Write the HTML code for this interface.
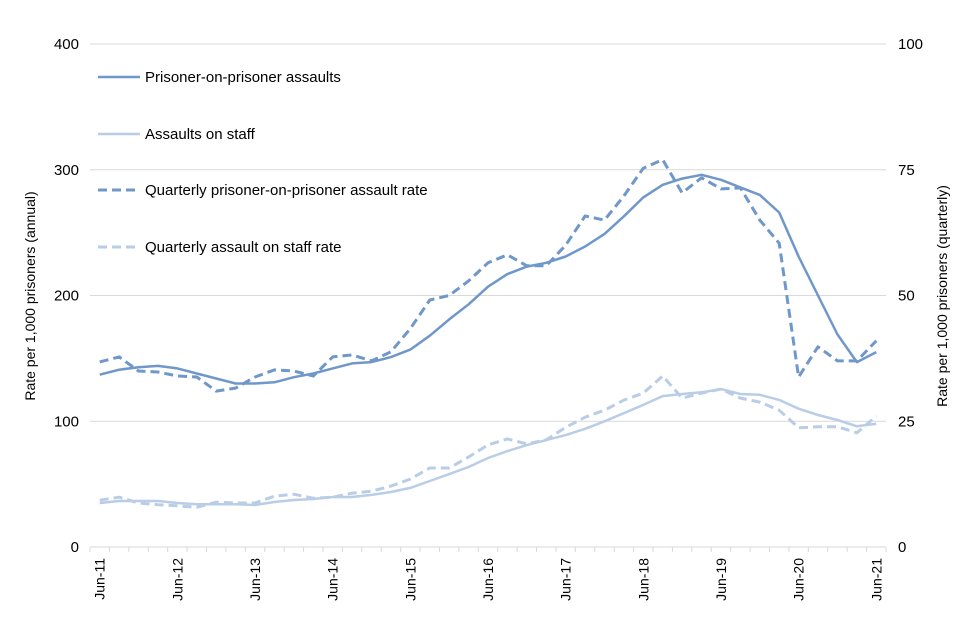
<!DOCTYPE html>
<html><head><meta charset="utf-8"><style>
html,body{margin:0;padding:0;background:#fff;}
svg{display:block;font-family:"Liberation Sans",Arial,sans-serif;}
</style></head><body>
<svg id="chart" width="960" height="640" viewBox="0 0 960 640">
<g id="grid"></g>
<g id="yl"></g>
<g id="yr"></g>
<g id="xa"></g>
<g id="series"></g>
<text transform="translate(35,296) rotate(-90)" text-anchor="middle" font-size="14" fill="#000">Rate per 1,000 prisoners (annual)</text>
<text transform="translate(947,296) rotate(-90)" text-anchor="middle" font-size="14" fill="#000">Rate per 1,000 prisoners (quarterly)</text>
<g>
<g><line x1="98" y1="77" x2="140" y2="77" stroke="#7097c9" stroke-width="2.5"/><text x="145" y="82" font-size="15">Prisoner-on-prisoner assaults</text></g>
<g><line x1="98" y1="134" x2="140" y2="134" stroke="#b9cde6" stroke-width="2.5"/><text x="145" y="139" font-size="15">Assaults on staff</text></g>
<g><line x1="98" y1="190" x2="140" y2="190" stroke="#7097c9" stroke-width="3" stroke-dasharray="9,5"/><text x="145" y="195" font-size="15">Quarterly prisoner-on-prisoner assault rate</text></g>
<g><line x1="98" y1="247" x2="140" y2="247" stroke="#b9cde6" stroke-width="3" stroke-dasharray="9,5"/><text x="145" y="252" font-size="15">Quarterly assault on staff rate</text></g>
</g>
</svg>
<script>
const quarters = ["Jun-11","Sep-11","Dec-11","Mar-12","Jun-12","Sep-12","Dec-12","Mar-13","Jun-13","Sep-13","Dec-13","Mar-14","Jun-14","Sep-14","Dec-14","Mar-15","Jun-15","Sep-15","Dec-15","Mar-16","Jun-16","Sep-16","Dec-16","Mar-17","Jun-17","Sep-17","Dec-17","Mar-18","Jun-18","Sep-18","Dec-18","Mar-19","Jun-19","Sep-19","Dec-19","Mar-20","Jun-20","Sep-20","Dec-20","Mar-21","Jun-21"];
const leftTicks = [0,100,200,300,400];
const rightTicks = [0,25,50,75,100];
const prisonerAnnual = [137,141,143,144,142,138,134,130,130,131,135,138,142,146,147,151,157,168,181,193,207,217,223,226,231,239,249,263,278,288,293,296,292,286,280,266,231,200,169,147,155];
const staffAnnual = [35,36.6,36.6,36.6,35,34,34,34,33.4,35.8,37.4,38.2,39.8,39.8,41.4,43.7,47,52.5,58,63.6,70.8,76.3,81,85,89,94,100,106.5,113,120,121.7,123,125.6,121.7,121,117,110,105,101,96,98];
const prisonerQuarterly = [36.8,37.8,35,34.8,34,33.8,31,31.6,33.8,35.2,35,34,37.8,38.2,37,38.8,43.4,49.1,50,52.9,56.5,58.1,55.9,55.9,60,65.8,65,69.8,75.3,77,70.4,73.4,71.2,71.4,65,60.4,33.8,39.8,37,37,41];
const staffQuarterly = [9.3,9.9,8.75,8.4,8.2,7.9,8.9,8.75,8.75,10.1,10.5,9.7,9.9,10.7,11.1,12.1,13.5,15.7,15.7,17.9,20.3,21.5,20.5,21.3,23.8,25.8,27.2,29.2,30.6,34,29.6,30.6,31.4,29.6,28.8,27.2,23.7,23.9,23.9,22.7,26];

const NS="http://www.w3.org/2000/svg";
const X0=90,X1=886,Y0=547,Y1=44;
const bw=(X1-X0)/quarters.length;
const x=i=>X0+bw*(i+0.5);
const yL=v=>Y0-(v/400)*(Y0-Y1);
const yR=v=>Y0-(v/100)*(Y0-Y1);
function mk(tag,attrs,parent){const e=document.createElementNS(NS,tag);for(const k in attrs)e.setAttribute(k,attrs[k]);parent.appendChild(e);return e;}
const grid=document.getElementById('grid'),yl=document.getElementById('yl'),yr=document.getElementById('yr'),xa=document.getElementById('xa'),ser=document.getElementById('series');
leftTicks.forEach((t,k)=>{
  if(t>0){const g=mk('line',{x1:X0,x2:X1,y1:yL(t),y2:yL(t),stroke:'#d9d9d9','stroke-width':1},grid);
  
  }
  const tx=mk('text',{x:79,y:yL(t)+5,'text-anchor':'end','font-size':15},yl);tx.textContent=t;
  
  
});
rightTicks.forEach(t=>{
  const tx=mk('text',{x:898,y:yR(t)+5,'text-anchor':'start','font-size':15},yr);tx.textContent=t;
  
  
});
const ax=mk('line',{x1:X0,x2:X1,y1:Y0,y2:Y0,stroke:'#d9d9d9','stroke-width':1},xa);


for(let i=0;i<=quarters.length;i++){
  const tk=mk('line',{x1:X0+bw*i,x2:X0+bw*i,y1:Y0,y2:Y0+5,stroke:'#d9d9d9','stroke-width':1},xa);
  
  
}
quarters.forEach((q,i)=>{
  if(i%4!==0)return;
  const tx=mk('text',{transform:`translate(${x(i)+5},558) rotate(-90)`,'text-anchor':'end','font-size':14},xa);tx.textContent=q;
  
  
});
function line(vals,yf,color,dash,name){
  const d=vals.map((v,i)=>(i?'L':'M')+x(i).toFixed(1)+','+yf(v).toFixed(1)).join(' ');
  const p=mk('path',{d:d,fill:'none',stroke:color,'stroke-width':dash?3:2.5,'stroke-linejoin':'round'},ser);
  if(dash)p.setAttribute('stroke-dasharray','9,5');
  
  
}
line(staffAnnual,yL,'#b9cde6',false,'staff-annual-line');
line(staffQuarterly,yR,'#b9cde6',true,'staff-quarterly-line');
line(prisonerAnnual,yL,'#7097c9',false,'prisoner-annual-line');
line(prisonerQuarterly,yR,'#7097c9',true,'prisoner-quarterly-line');
</script>
</body></html>
